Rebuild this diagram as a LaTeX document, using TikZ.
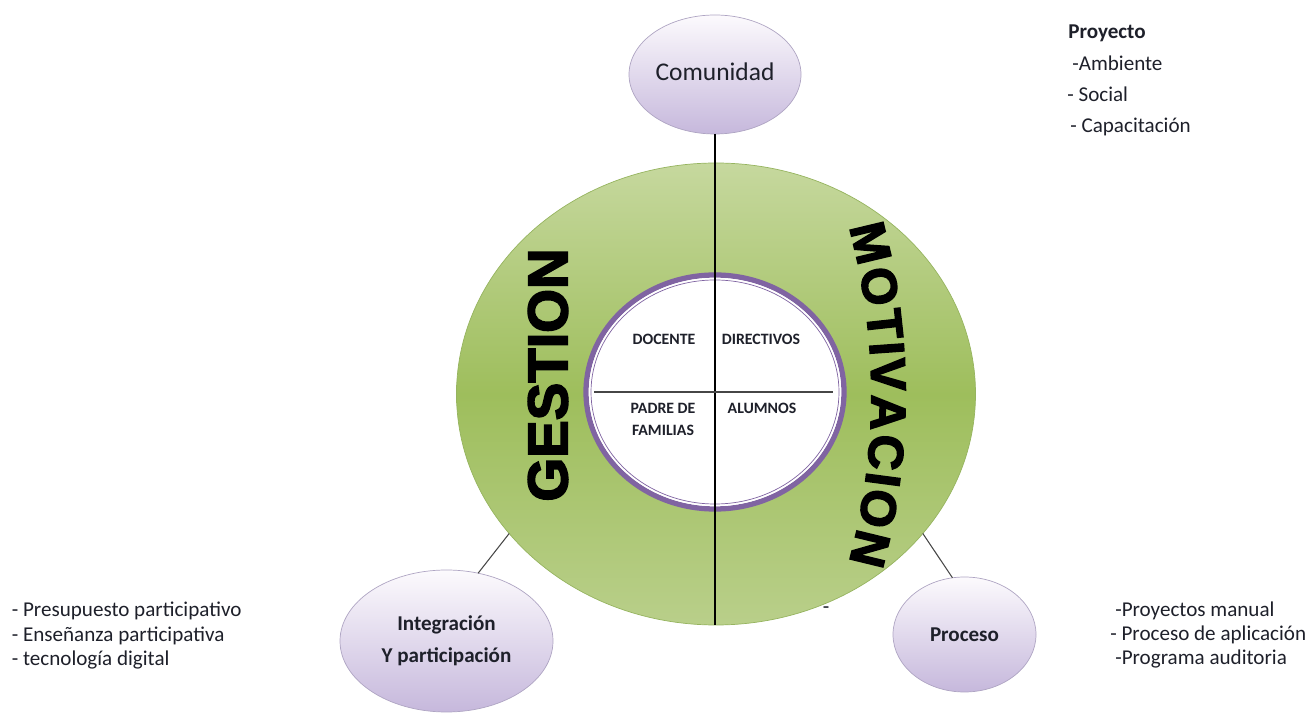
\documentclass[tikz,border=0pt]{standalone}
\usepackage{fontspec}
\setmainfont{Carlito}
\newfontfamily\heavyfont{Liberation Sans}[BoldFeatures={FakeBold=3}]
\usepackage{xcolor}
\usepackage{tikz}
\usetikzlibrary{shapes.geometric,decorations.text}

\definecolor{leafTop}{RGB}{198,216,158}
\definecolor{leafMid}{RGB}{158,190,92}
\definecolor{leafBot}{RGB}{185,207,138}
\definecolor{leafLine}{RGB}{150,180,95}
\definecolor{lilac}{RGB}{128,100,162}
\definecolor{lilacTop}{RGB}{252,250,253}
\definecolor{lilacBot}{RGB}{198,184,220}
\definecolor{lilacLine}{RGB}{175,165,195}
\definecolor{ink}{RGB}{30,32,42}
\definecolor{linkgrey}{RGB}{70,70,70}

\tikzset{
	bubble/.style={ellipse, draw=lilacLine, top color=lilacTop, bottom color=lilacBot, inner sep=0pt, outer sep=0pt, text=ink},
	quad/.style={font=\bfseries\fontsize{9}{12.5}\selectfont, text=ink, align=center},
	item/.style={anchor=base west, font=\fontsize{12}{14}\selectfont, text=ink, inner sep=0pt},
	link/.style={draw=linkgrey, line width=0.6pt},
	bigword/.style={font=\heavyfont\bfseries\fontsize{#1}{#1}\selectfont}
}

\begin{document}
\begin{tikzpicture}
	\useasboundingbox (0,0) rectangle (26.32,14.26);
	% green ring and white core
	\node[ellipse, draw=leafLine, top color=leafTop, bottom color=leafBot, middle color=leafMid, minimum width=10.38cm, minimum height=9.24cm, inner sep=0pt, outer sep=0pt] (ring) at (14.32,6.38) {};
	\node[ellipse, fill=white, draw=lilac, line width=3pt, minimum width=5.16cm, minimum height=4.68cm, inner sep=0pt, outer sep=0pt] (core) at (14.30,6.42) {};
	\draw[white, line width=0.7pt] (core.center) ellipse (2.51 and 2.27);
	\draw[lilac, line width=0.4pt] (core.center) ellipse (2.48 and 2.24);
	\node[rotate=90, bigword=32] (gestion) at (10.96,6.76) {GESTION};
	\path[decorate, decoration={text effects along path, text={MOTIVACION}, text align=center,
		text effects/.cd, text along path, fit text to path, characters={bigword=28, inner sep=0pt}}]
		(16.98,9.72) arc[start angle=15.3, end angle=-15.3, radius=12.70];

	\node[bubble, minimum width=3.44cm, minimum height=2.38cm, font=\fontsize{14.5}{16}\selectfont] (comu) at (14.30,12.77) {\raisebox{3pt}{Comunidad}};
	\node[bubble, minimum width=4.26cm, minimum height=2.84cm, align=center, font=\bfseries\fontsize{12}{18}\selectfont] (integ) at (8.93,1.44) {Integración\\ Y participación};
	\node[bubble, minimum width=2.86cm, minimum height=2.30cm, font=\bfseries\fontsize{12}{14}\selectfont] (proc) at (19.29,1.57) {Proceso};

	\draw[black, line width=0.8pt] (comu.south) -- (comu.south |- ring.south);
	\draw[linkgrey, line width=1.2pt] ([xshift=0.16cm]core.west) -- ([xshift=-0.22cm]core.east);
	\draw[link] (ring.214) -- (integ.65);
	\draw[link] (ring.-34) -- (proc.102);

	\node[quad] (docente) at (13.28,7.48) {DOCENTE};
	\node[quad] (directivos) at (15.22,7.48) {DIRECTIVOS};
	\node[quad] (padres) at (13.26,5.88) {PADRE DE\\FAMILIAS};
	\node[quad] (alumnos) at (15.24,6.10) {ALUMNOS};

	\node[item, anchor=center] (dash) at (16.52,2.06) {-};

	% lists
	\node[item, font=\bfseries\fontsize{12}{14}\selectfont] (proy) at (21.36,13.48) {Proyecto};
	\node[item] (amb) at (21.44,12.84) {-Ambiente};
	\node[item] (soc) at (21.34,12.22) {- Social};
	\node[item] (cap) at (21.40,11.60) {- Capacitación};
	\node[item] (presu) at (0.23,1.92) {- Presupuesto participativo};
	\node[item] (ense) at (0.23,1.42) {- Enseñanza participativa};
	\node[item] (tecno) at (0.23,0.94) {- tecnología digital};
	\node[item] (pman) at (22.30,1.92) {-Proyectos manual};
	\node[item] (papl) at (22.20,1.44) {- Proceso de aplicación};
	\node[item] (paud) at (22.30,0.96) {-Programa auditoria};
\end{tikzpicture}
\end{document}
